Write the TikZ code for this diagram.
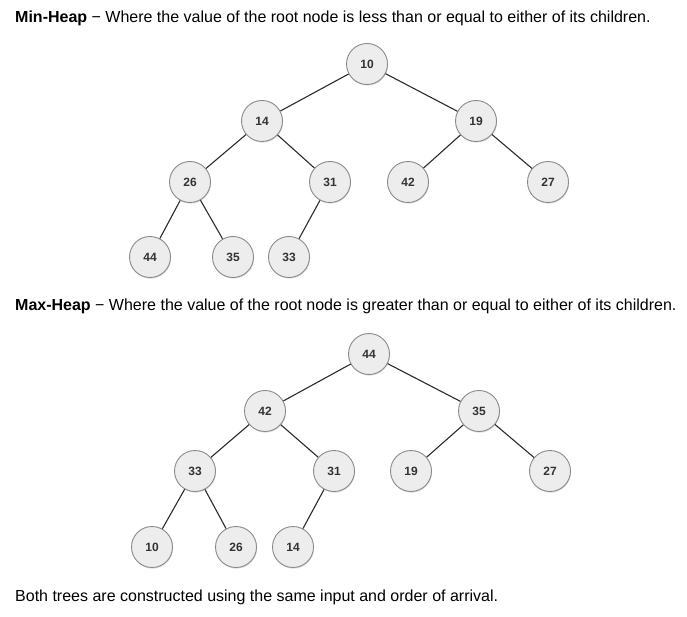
\documentclass[tikz,border=0pt]{standalone}
\usepackage{fontspec}
\setmainfont{Liberation Sans}
\usetikzlibrary{shadows}
\definecolor{nodefill}{HTML}{EDEDED}
\definecolor{nodeline}{HTML}{8A8A8A}
\definecolor{numtext}{HTML}{333333}
\definecolor{edgeline}{HTML}{2B2B2B}
\tikzset{
  heapnode/.style={circle, minimum size=41pt, inner sep=0pt, fill=nodefill, draw=nodeline, line width=0.9pt,
    drop shadow={shadow xshift=0.6pt, shadow yshift=-1.2pt, opacity=0.25},
    text=numtext, font=\fontsize{12}{14}\selectfont\bfseries},
  heapedge/.style={draw=edgeline, line width=1.1pt},
  caption/.style={anchor=west, inner sep=0pt, font=\fontsize{16}{18}\selectfont}
}
\begin{document}
\begin{tikzpicture}[x=1pt, y=-1pt]
\useasboundingbox (0,0) rectangle (687,617);
% min-heap
\node[caption] (mincap) at (15,18) {\textbf{Min-Heap} − Where the value of the root node is less than or equal to either of its children.};
\node[heapnode] (mn10) at (367,64) {10};
\node[heapnode] (mn14) at (262,121) {14};
\node[heapnode] (mn19) at (476,121) {19};
\node[heapnode] (mn26) at (190,182) {26};
\node[heapnode] (mn31) at (330,182) {31};
\node[heapnode] (mn42) at (408,182) {42};
\node[heapnode] (mn27) at (548,182) {27};
\node[heapnode] (mn44) at (150,257) {44};
\node[heapnode] (mn35) at (233,257) {35};
\node[heapnode] (mn33) at (289,257) {33};
\foreach \a/\b in {mn10/mn14, mn10/mn19, mn14/mn26, mn14/mn31, mn19/mn42, mn19/mn27, mn26/mn44, mn26/mn35, mn31/mn33}
  \draw[heapedge] (\a) -- (\b);
% max-heap
\node[caption] (maxcap) at (15,306) {\textbf{Max-Heap} − Where the value of the root node is greater than or equal to either of its children.};
\node[heapnode] (mx44) at (369,354) {44};
\node[heapnode] (mx42) at (265,411) {42};
\node[heapnode] (mx35) at (479,411) {35};
\node[heapnode] (mx33) at (195,471) {33};
\node[heapnode] (mx31) at (334,471) {31};
\node[heapnode] (mx19) at (411,471) {19};
\node[heapnode] (mx27) at (550,471) {27};
\node[heapnode] (mx10) at (152,547) {10};
\node[heapnode] (mx26) at (236,547) {26};
\node[heapnode] (mx14) at (293,547) {14};
\foreach \a/\b in {mx44/mx42, mx44/mx35, mx42/mx33, mx42/mx31, mx35/mx19, mx35/mx27, mx33/mx10, mx33/mx26, mx31/mx14}
  \draw[heapedge] (\a) -- (\b);
\node[caption] (note) at (15,597) {Both trees are constructed using the same input and order of arrival.};
\end{tikzpicture}
\end{document}
